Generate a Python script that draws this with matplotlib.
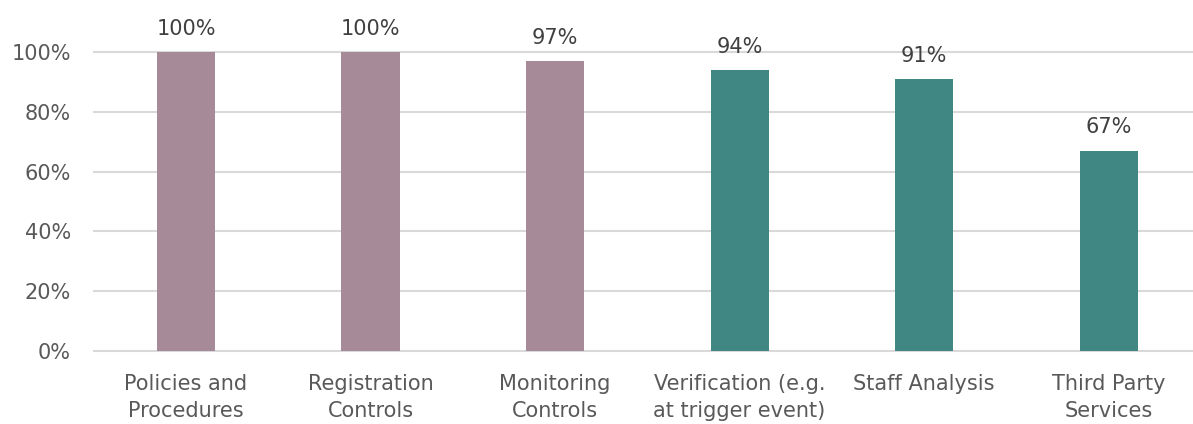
import matplotlib
matplotlib.use("Agg")
import matplotlib.pyplot as plt
from matplotlib.ticker import PercentFormatter

categories = ["Policies and\nProcedures", "Registration\nControls", "Monitoring\nControls",
              "Verification (e.g.\nat trigger event)", "Staff Analysis", "Third Party\nServices"]
values = [100, 100, 97, 94, 91, 67]
colors = ["#A78A98", "#A78A98", "#A78A98", "#408784", "#408784", "#408784"]
yticks = [0, 20, 40, 60, 80, 100]

text_color = "#595959"
plt.rcParams["font.family"] = ["DejaVu Sans"]

fig = plt.figure(figsize=(11.93, 4.24), dpi=100)
ax = fig.add_axes([93.7 / 1193, 1 - 351 / 424, (1201 - 93.7) / 1193, (351 - 52) / 424])

x = list(range(len(categories)))
bars = ax.bar(x, values, width=0.315, color=colors, zorder=3)

for xi, v in zip(x, values):
    ax.annotate(f"{v}%", (xi, v), xytext=(0, 9.5), textcoords="offset points",
                ha="center", va="bottom", fontsize=15, color="#404040")

ax.set_xlim(-0.5, len(categories) - 0.5)
ax.set_ylim(0, 100)
ax.set_yticks(yticks)
ax.yaxis.set_major_formatter(PercentFormatter(decimals=0))
ax.set_xticks(x)
ax.set_xticklabels(categories, fontsize=15, color=text_color, linespacing=1.42)
ax.tick_params(axis="y", labelsize=15, labelcolor=text_color, length=0, pad=16.5)
ax.tick_params(axis="x", length=0, pad=16.5)
ax.grid(axis="y", color="#D9D9D9", linewidth=1.5, zorder=0)
for gl in ax.get_ygridlines():
    gl.set_clip_on(False)
for s in ax.spines.values():
    s.set_visible(False)
ax.set_axisbelow(True)

fig.savefig("out.png", dpi=100)
